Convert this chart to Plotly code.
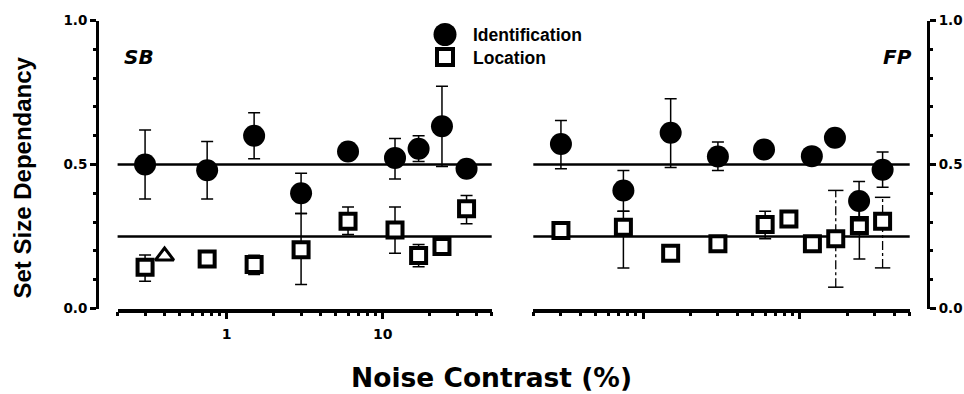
import math
import plotly.graph_objects as go

# ---------------- data ----------------
noise_sb = [0.30, 0.75, 1.5, 3.0, 6.0, 12.0, 17.0, 24.0, 34.5]
sb_ident = [0.50, 0.48, 0.60, 0.40, 0.545, 0.523, 0.555, 0.633, 0.485]
sb_ident_hi = [0.62, 0.58, 0.68, 0.47, None, 0.59, 0.60, 0.772, None]
sb_ident_lo = [0.38, 0.38, 0.52, 0.33, None, 0.45, 0.51, 0.493, None]
sb_loc = [0.143, 0.172, 0.153, 0.204, 0.303, 0.273, 0.184, 0.215, 0.346]
sb_loc_hi = [0.186, None, 0.185, 0.33, 0.352, 0.352, 0.222, None, 0.392]
sb_loc_lo = [0.095, None, 0.118, 0.083, 0.257, 0.192, 0.145, None, 0.294]
sb_extra_x = [0.40]
sb_extra_y = [0.182]

noise_fp_ident = [0.30, 0.75, 1.5, 3.0, 5.9, 11.9, 16.7, 23.8, 33.6]
fp_ident = [0.571, 0.41, 0.61, 0.528, 0.552, 0.529, 0.593, 0.373, 0.482]
fp_ident_hi = [0.653, 0.479, 0.728, 0.578, None, None, None, 0.441, 0.543]
fp_ident_lo = [0.485, 0.338, 0.49, 0.479, None, None, None, 0.305, 0.421]
noise_fp_loc = [0.30, 0.75, 1.5, 3.0, 6.0, 8.5, 12.0, 16.9, 23.9, 33.6]
fp_loc = [0.271, 0.282, 0.192, 0.225, 0.292, 0.311, 0.225, 0.242, 0.288, 0.303]
fp_loc_hi = [None, 0.338, 0.21, 0.245, 0.338, None, 0.245, 0.41, 0.40, 0.386]
fp_loc_lo = [None, 0.141, 0.175, 0.205, 0.242, None, 0.205, 0.074, 0.172, 0.141]
fp_loc_dashed = [False, False, False, False, False, False, False, True, False, True]

ref_levels = [0.5, 0.25]
x_range_vals = [0.2, 50]
y_tick_vals = [0.0, 0.5, 1.0]
x_major_ticks = [1, 10]
x_major_labels = ["1", "10"]
x_minor_ticks = [0.2, 0.3, 0.4, 0.5, 0.6, 0.7, 0.8, 0.9, 2, 3, 4, 5, 6, 7, 8, 9, 20, 30, 40, 50]

W, H = 964, 394


def px(x):
    return x / W


def py(y):
    return 1 - y / H


def plus(vals, hi):
    return [None if h is None else h - v for v, h in zip(vals, hi)]


def minus(vals, lo):
    return [None if l is None else v - l for v, l in zip(vals, lo)]


SANS = "Liberation Sans, Arial, sans-serif"
DJ = "DejaVu Sans, sans-serif"

fig = go.Figure()


def add_series(x, y, hi, lo, xa, ya, symbol, size, fill, lw):
    fig.add_trace(go.Scatter(
        x=x, y=y, mode="markers", xaxis=xa, yaxis=ya, showlegend=False,
        cliponaxis=False,
        marker=dict(symbol=symbol, size=size, color=fill,
                    line=dict(color="black", width=lw)),
        error_y=dict(type="data", symmetric=False, array=plus(y, hi),
                     arrayminus=minus(y, lo), color="black", thickness=1.5,
                     width=6),
    ))


def add_dashed_bars(x, hi, lo, flags, xa, ya):
    sx, sy, cx, cy = [], [], [], []
    for xi, h, l, f in zip(x, hi, lo, flags):
        if f:
            sx += [xi, xi, None]
            sy += [l, h, None]
            cx += [xi, xi]
            cy += [l, h]
    fig.add_trace(go.Scatter(x=sx, y=sy, mode="lines", xaxis=xa, yaxis=ya,
                             showlegend=False, cliponaxis=False,
                             line=dict(color="black", width=1.3, dash="dashdot")))
    fig.add_trace(go.Scatter(x=cx, y=cy, mode="markers", xaxis=xa, yaxis=ya,
                             showlegend=False, cliponaxis=False,
                             marker=dict(symbol="line-ew", size=11,
                                         line=dict(color="black", width=1.5))))


# left panel (SB)
add_series(noise_sb, sb_loc, sb_loc_hi, sb_loc_lo, "x", "y", "square", 15, "white", 4)
fig.add_trace(go.Scatter(x=sb_extra_x, y=sb_extra_y, mode="markers", xaxis="x", yaxis="y",
                         showlegend=False, cliponaxis=False,
                         marker=dict(symbol="triangle-up", size=16, color="white",
                                     line=dict(color="black", width=3))))
add_series(noise_sb, sb_ident, sb_ident_hi, sb_ident_lo, "x", "y", "circle", 22, "black", 0)

# right panel (FP)
solid_hi = [None if d else h for h, d in zip(fp_loc_hi, fp_loc_dashed)]
solid_lo = [None if d else l for l, d in zip(fp_loc_lo, fp_loc_dashed)]
add_dashed_bars(noise_fp_loc, fp_loc_hi, fp_loc_lo, fp_loc_dashed, "x2", "y2")
add_series(noise_fp_loc, fp_loc, solid_hi, solid_lo, "x2", "y2", "square", 15, "white", 4)
add_series(noise_fp_ident, fp_ident, fp_ident_hi, fp_ident_lo, "x2", "y2", "circle", 22, "black", 0)

shapes = []
for xr, yr in (("x domain", "y"), ("x2 domain", "y2")):
    for lev in ref_levels:
        shapes.append(dict(type="line", xref=xr, yref=yr, x0=0, x1=1, y0=lev, y1=lev,
                           line=dict(color="black", width=2.5), layer="below"))

# legend glyphs
shapes.append(dict(type="circle", xref="paper", yref="paper",
                   x0=px(433.5), x1=px(456.5), y0=py(46), y1=py(23),
                   fillcolor="black", line=dict(color="black", width=0)))
shapes.append(dict(type="rect", xref="paper", yref="paper",
                   x0=px(437), x1=px(453), y0=py(65), y1=py(49),
                   fillcolor="white", line=dict(color="black", width=4)))

tickfont = dict(family=DJ, size=13.5, color="black", weight="bold")

xcommon = dict(type="log", range=[math.log10(v) for v in x_range_vals],
               showline=True, linecolor="black", linewidth=3.5,
               ticks="outside", ticklen=7, tickwidth=3, tickcolor="black",
               tickmode="array", tickvals=x_major_ticks, ticktext=x_major_labels,
               tickfont=dict(family=DJ, size=14, color="black", weight="bold"),
               ticklabelstandoff=3,
               showgrid=False, zeroline=False, fixedrange=True,
               automargin=False,
               minor=dict(tickmode="array", tickvals=x_minor_ticks, ticks="outside",
                          ticklen=4, tickwidth=2.5, tickcolor="black", showgrid=False))

ycommon = dict(range=[0, 1], domain=[py(308.5), py(20.5)], anchor="free",
               showline=True, linecolor="black", linewidth=3,
               ticks="outside", ticklen=6, tickwidth=3, tickcolor="black",
               tickmode="array", tickvals=y_tick_vals, tickformat=".1f",
               tickfont=tickfont, showgrid=False, zeroline=False, fixedrange=True,
               automargin=False,
               minor=dict(dtick=0.1, tick0=0, ticks="outside", ticklen=3,
                          tickwidth=2.5, tickcolor="black", showgrid=False))

fig.update_layout(
    width=W, height=H, autosize=False,
    margin=dict(l=0, r=0, t=0, b=0, pad=0, autoexpand=False),
    paper_bgcolor="white", plot_bgcolor="white",
    showlegend=False,
    xaxis=dict(domain=[px(117.6), px(491.7)], anchor="y", **xcommon),
    xaxis2=dict(domain=[px(533.3), px(909.7)], anchor="y2", showticklabels=False, **xcommon),
    yaxis=dict(position=px(97), side="left", **ycommon),
    yaxis2=dict(position=px(928), side="right", **ycommon),
    shapes=shapes,
    annotations=[
        dict(text="Set Size Dependancy", xref="paper", yref="paper", x=px(22), y=py(177.5),
             textangle=-90, showarrow=False, xanchor="center", yanchor="middle",
             font=dict(family=SANS, size=24, color="black", weight="bold")),
        dict(text="Noise Contrast (%)", xref="paper", yref="paper", x=px(492), y=py(377),
             showarrow=False, xanchor="center", yanchor="middle",
             font=dict(family=DJ, size=26.5, color="black", weight="bold")),
        dict(text="SB", xref="paper", yref="paper", x=px(139), y=py(57.5),
             showarrow=False, xanchor="center", yanchor="middle",
             font=dict(family=DJ, size=20, color="black", weight="bold", style="italic")),
        dict(text="FP", xref="paper", yref="paper", x=px(897), y=py(57),
             showarrow=False, xanchor="center", yanchor="middle",
             font=dict(family=DJ, size=20, color="black", weight="bold", style="italic")),
        dict(text="Identification", xref="paper", yref="paper", x=px(471), y=py(35),
             showarrow=False, xanchor="left", yanchor="middle",
             font=dict(family=SANS, size=17.5, color="black", weight="bold")),
        dict(text="Location", xref="paper", yref="paper", x=px(471), y=py(58),
             showarrow=False, xanchor="left", yanchor="middle",
             font=dict(family=SANS, size=17.5, color="black", weight="bold")),
    ],
)

fig.write_html("out.html", config=dict(displayModeBar=False))
